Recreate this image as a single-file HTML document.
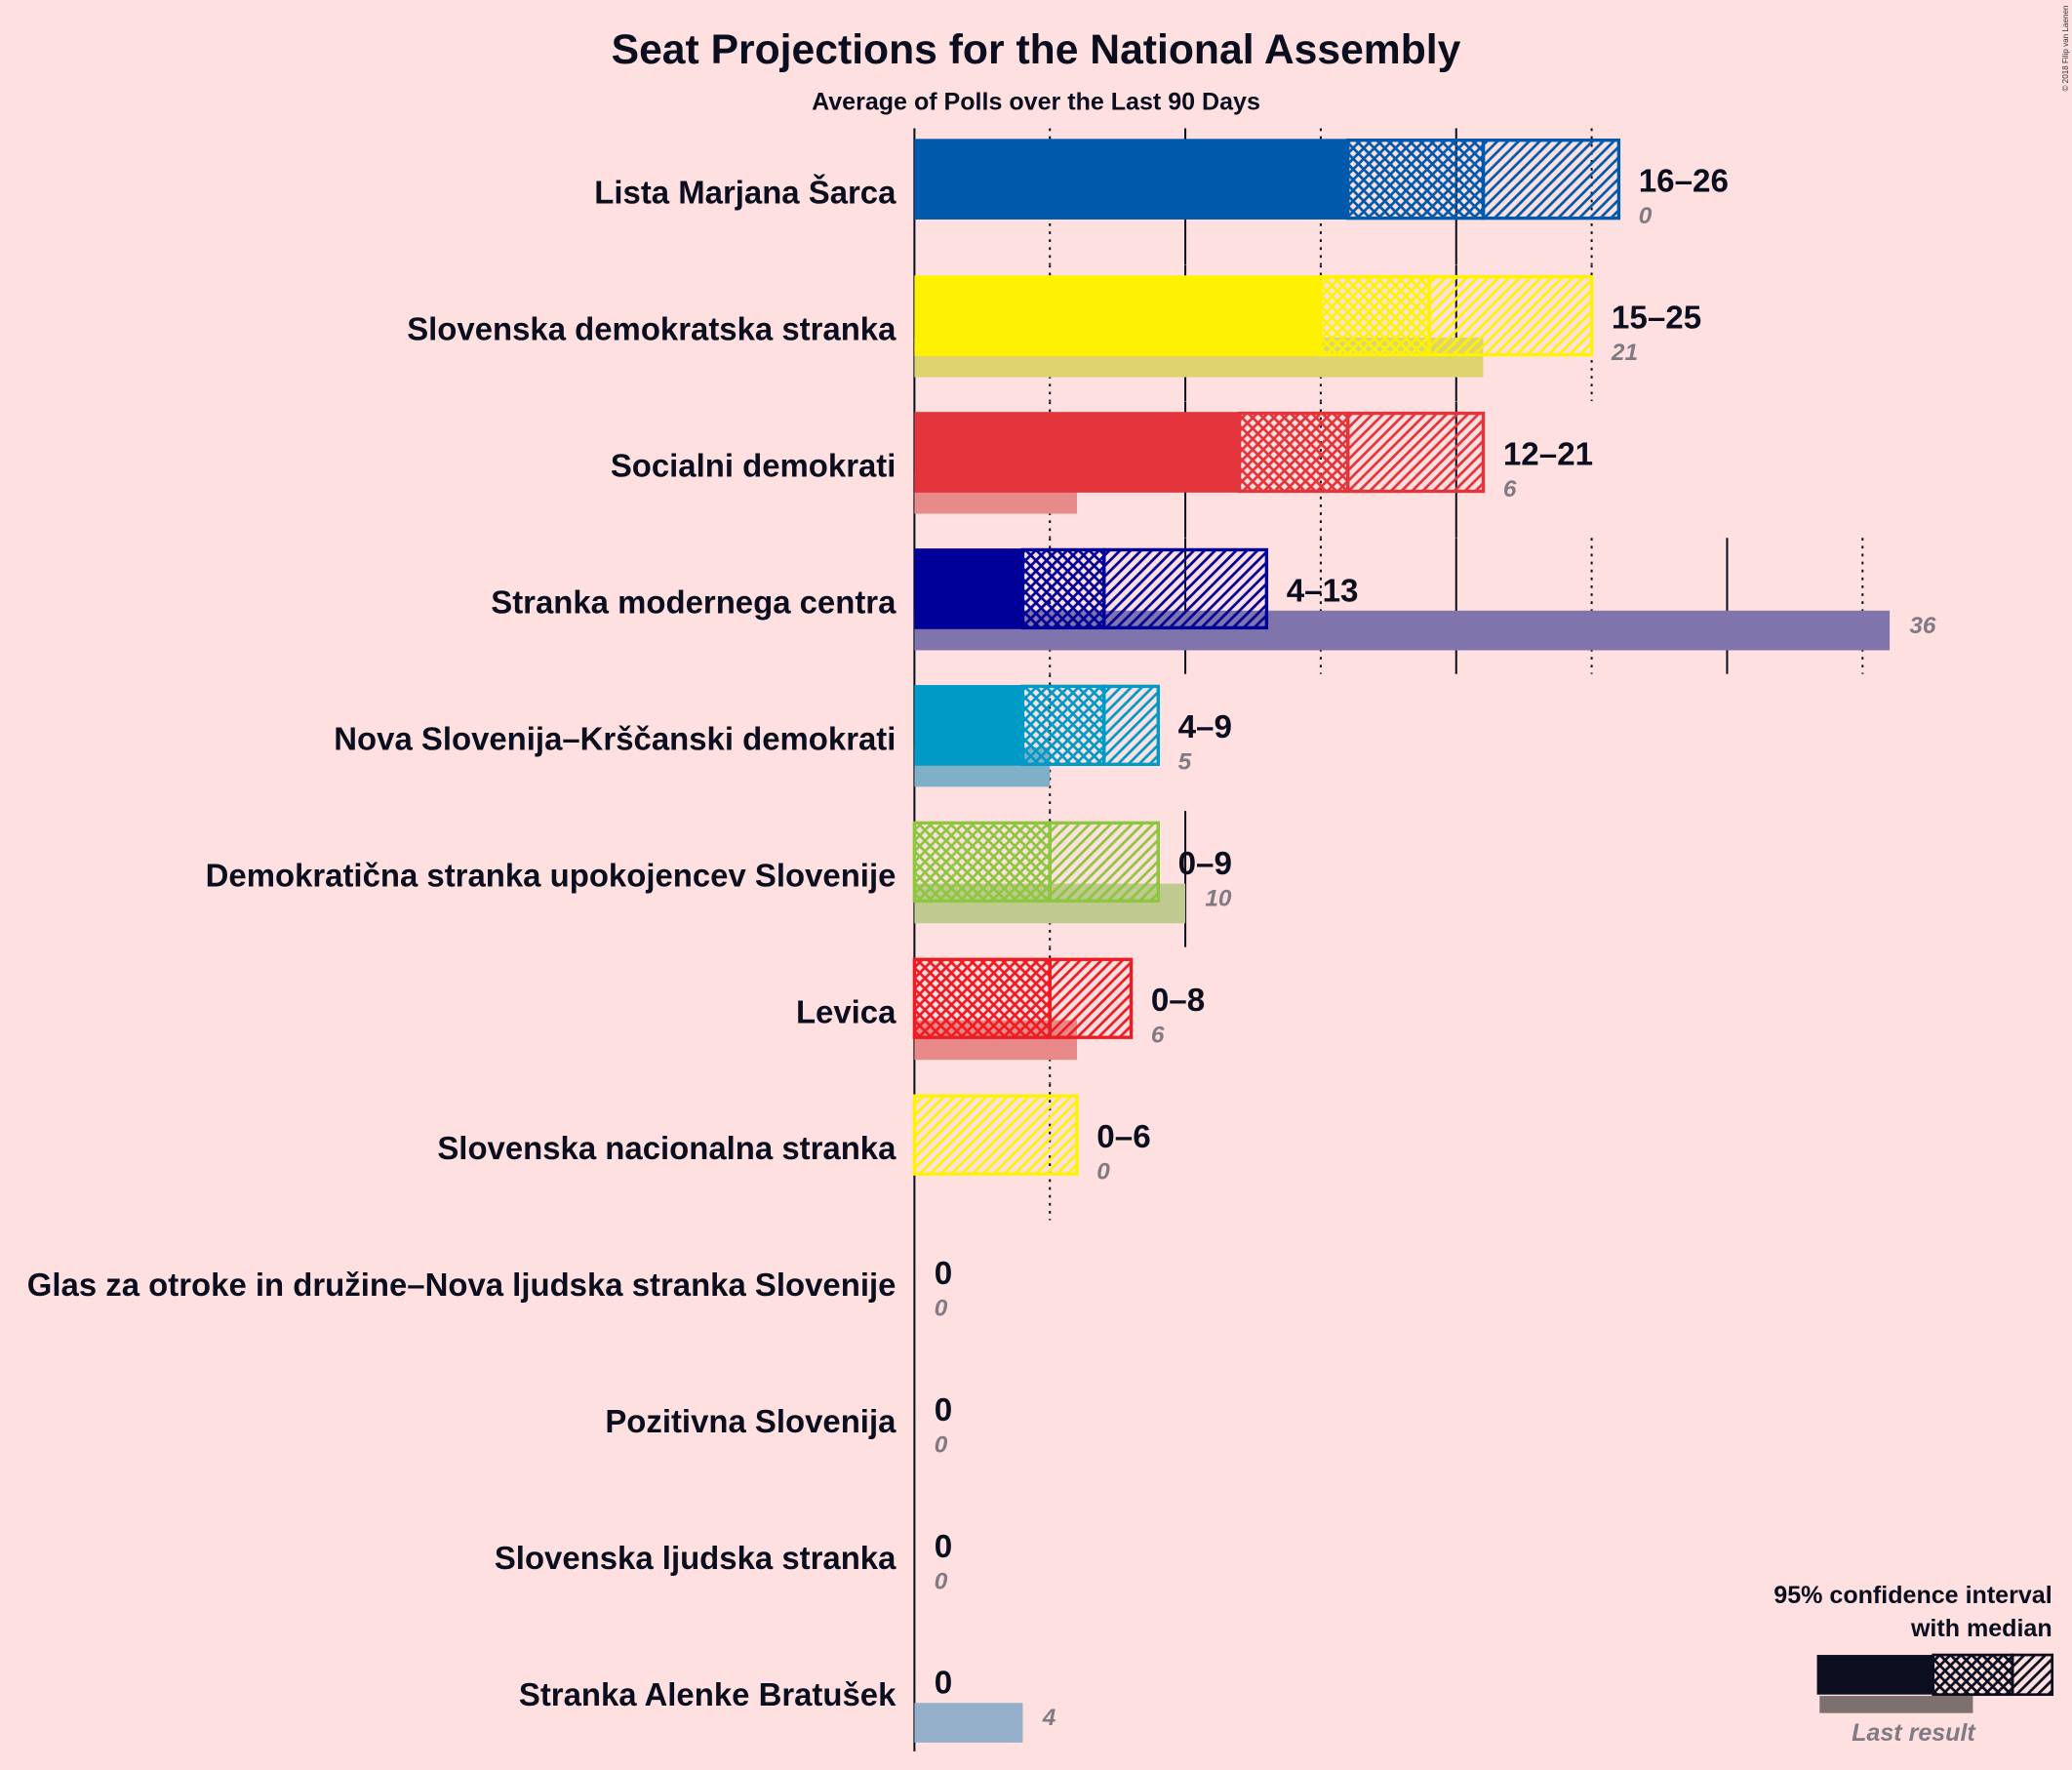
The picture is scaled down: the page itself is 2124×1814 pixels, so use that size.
<!DOCTYPE html>
<html><head><meta charset="utf-8">
<style>
html,body{margin:0;padding:0;background:#FFE0E0;}
svg{display:block;font-family:"Liberation Sans",sans-serif;}
</style></head>
<body>
<svg id="chart" width="2124" height="1814" viewBox="0 0 1568 1339" xmlns="http://www.w3.org/2000/svg">
<defs id="defs"></defs>
<rect x="0" y="0" width="1568" height="1339" fill="#FFE0E0"/>
<text x="784" y="48" text-anchor="middle" font-size="31.5" font-weight="bold" fill="#0A0E1E">Seat Projections for the National Assembly</text>
<text x="784" y="83" text-anchor="middle" font-size="18.5" font-weight="bold" fill="#0A0E1E">Average of Polls over the Last 90 Days</text>
<text transform="translate(1565,4) rotate(-90)" text-anchor="end" font-size="6" fill="#333">© 2018 Filip van Laenen</text>
<g id="grid"></g>
<g id="lastbars"></g>
<g id="bars"></g>
<g id="labels"></g>
<g>
<text x="1553" y="1213" text-anchor="end" font-size="18.5" font-weight="bold" fill="#0A0E1E">95% confidence interval</text>
<text x="1553" y="1238" text-anchor="end" font-size="18.5" font-weight="bold" fill="#0A0E1E">with median</text>
<rect x="1377" y="1283" width="116" height="13" fill="#7F7070"/>
<rect x="1375" y="1252" width="88" height="30" fill="#0A0E1E"/>
<rect x="1463" y="1252" width="60" height="30" fill="url(#cross-leg)" stroke="#0A0E1E" stroke-width="2"/>
<rect x="1523" y="1252" width="30" height="30" fill="url(#diag-leg)" stroke="#0A0E1E" stroke-width="2"/>
<text x="1448" y="1317" text-anchor="middle" font-size="18.5" font-weight="bold" font-style="italic" fill="#7F7A84">Last result</text>
</g>
</svg>
<script>
const parties = ["Lista Marjana Šarca","Slovenska demokratska stranka","Socialni demokrati","Stranka modernega centra","Nova Slovenija–Krščanski demokrati","Demokratična stranka upokojencev Slovenije","Levica","Slovenska nacionalna stranka","Glas za otroke in družine–Nova ljudska stranka Slovenije","Pozitivna Slovenija","Slovenska ljudska stranka","Stranka Alenke Bratušek"];
const lows = [16,15,12,4,4,0,0,0,0,0,0,0];
const medians = [21,19,16,7,7,5,5,0,0,0,0,0];
const highs = [26,25,21,13,9,9,8,6,0,0,0,0];
const lastResults = [0,21,6,36,5,10,6,0,0,0,0,4];
const colors = ["#0059AA","#FFF200","#E2343A","#000099","#009AC7","#8DC63F","#ED1C24","#FFF200","#1F4E9A","#8C8C8C","#2E8B57","#2A5C99"];
const lastColors = ["#7F9FCF","#DDD470","#E88A8A","#7F74AC","#7FB0C8","#C0C990","#E88888","#E8E080","#AAAAAA","#AAAAAA","#AAAAAA","#94AFC9"];

const NS="http://www.w3.org/2000/svg";
const x0=692, perSeat=20.5, rowTop=105, rowStep=103.3, barH=61;
function xs(v){return x0+v*perSeat;}
function yRow(i){return rowTop+i*rowStep;}
function mk(tag,attrs,parent){const e=document.createElementNS(NS,tag);for(const k in attrs)e.setAttribute(k,attrs[k]);parent.appendChild(e);return e;}
const defs=document.getElementById('defs'),grid=document.getElementById('grid'),bars=document.getElementById('bars'),labels=document.getElementById('labels'),lastbars=document.getElementById('lastbars');
function patterns(id,c){
  const p1=mk('pattern',{id:'cross-'+id,patternUnits:'userSpaceOnUse',width:8,height:8},defs);
  mk('path',{d:'M0,0L8,8M8,0L0,8M-1,7L1,9M7,-1L9,1M-1,1L1,-1M7,9L9,7',stroke:c,'stroke-width':2},p1);
  const p2=mk('pattern',{id:'diag-'+id,patternUnits:'userSpaceOnUse',width:8,height:8},defs);
  mk('path',{d:'M0,8L8,0M-2,2L2,-2M6,10L10,6',stroke:c,'stroke-width':2},p2);
}
patterns('leg','#0A0E1E');
parties.forEach((p,i)=>{patterns(i,colors[i]);});

const ax=mk('line',{x1:x0,y1:97,x2:x0,y2:1325,stroke:'#0A0E1E','stroke-width':1.5},grid);



parties.forEach((p,i)=>{
  const t=yRow(i);
  const maxv=Math.max(highs[i],lastResults[i]);
  for(let v=5;v<=maxv;v+=5){
    const dotted=v%10!==0;
    const g=mk('line',{x1:xs(v),y1:t-8,x2:xs(v),y2:t+95,stroke:'#0A0E1E','stroke-width':1.5,'stroke-dasharray':dotted?'2,4':'none'},grid);
    
    
  }
  const c=colors[i];
  if(lastResults[i]>0){
    const r=mk('rect',{x:xs(0),y:t+47,width:xs(lastResults[i])-xs(0),height:30,fill:lastColors[i]},lastbars);
    
    
  }
  if(lows[i]>0){
    const r=mk('rect',{x:xs(0),y:t,width:xs(lows[i])-xs(0),height:barH,fill:c},bars);
    
    
  }
  if(medians[i]>lows[i]){
    const r=mk('rect',{x:xs(lows[i]),y:t+1,width:xs(medians[i])-xs(lows[i]),height:barH-2,fill:'url(#cross-'+i+')',stroke:c,'stroke-width':2.5},bars);
    
    
  }
  if(highs[i]>medians[i]){
    const r=mk('rect',{x:xs(medians[i]),y:t+1,width:xs(highs[i])-xs(medians[i]),height:barH-2,fill:'url(#diag-'+i+')',stroke:c,'stroke-width':2.5},bars);
    
    
  }
  const nm=mk('text',{x:678,y:t+49,'text-anchor':'end','font-size':24.3,'font-weight':'bold',fill:'#0A0E1E'},labels);
  nm.textContent=p;
  
  
  const lx=xs(highs[i])+15;
  const rg=mk('text',{x:lx,y:t+40,'font-size':24.5,'font-weight':'bold',fill:'#0A0E1E'},labels);
  rg.textContent=highs[i]>lows[i]?(lows[i]+'–'+highs[i]):String(highs[i]);
  
  
  const lrx=Math.max(lx,xs(lastResults[i])+15);
  const lr=mk('text',{x:lrx,y:t+64,'font-size':18,'font-weight':'bold','font-style':'italic',fill:'#7F7A84'},labels);
  lr.textContent=String(lastResults[i]);
  
  
});
</script>
</body></html>
